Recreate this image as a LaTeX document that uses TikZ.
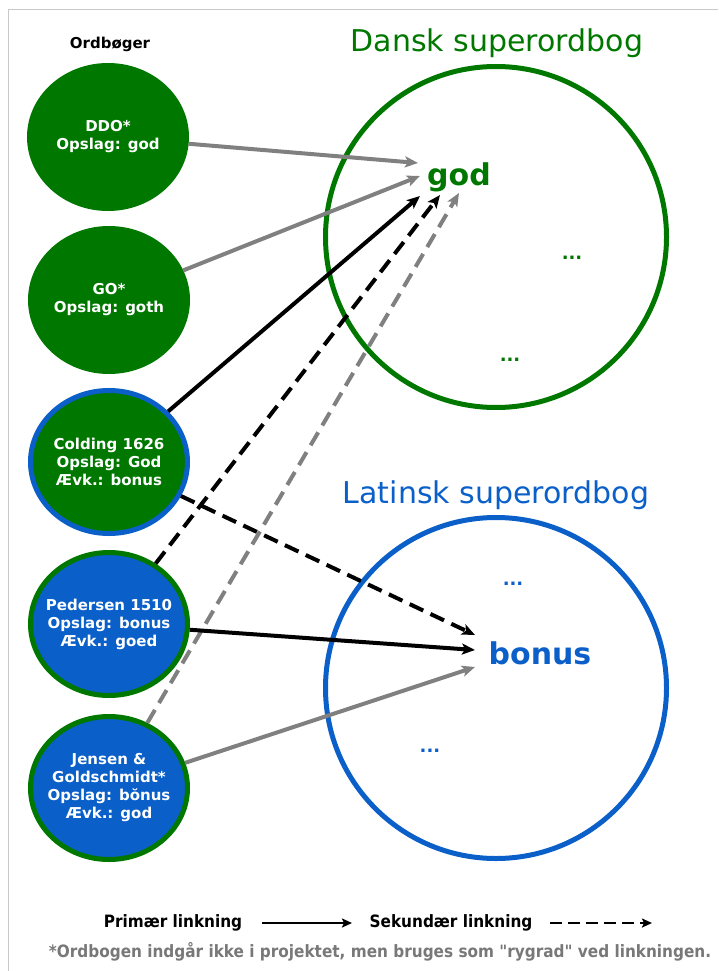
\documentclass[tikz,border=0pt]{standalone}
\usepackage{fontspec}
\setmainfont{DejaVu Sans}
\newfontfamily\condfont{DejaVu Sans Condensed}
\usetikzlibrary{shapes.geometric,arrows.meta}
\definecolor{dgreen}{RGB}{0,120,0}
\definecolor{dblue}{RGB}{10,95,200}
\definecolor{agray}{RGB}{128,128,128}
\definecolor{fgray}{RGB}{120,120,120}
\definecolor{framegray}{RGB}{200,200,200}
\begin{document}
\begin{tikzpicture}[x=1pt,y=-1pt,
  dict/.style={ellipse,line width=5pt,minimum width=157pt,minimum height=143pt,inner sep=0pt},
  gdict/.style={dict,fill=dgreen,draw=dgreen},
  gbdict/.style={dict,fill=dgreen,draw=dblue},
  bgdict/.style={dict,fill=dblue,draw=dgreen},
  ctext/.style={text=white,font=\bfseries\fontsize{15}{18}\selectfont,align=center,inner sep=0pt},
  superbox/.style={circle,line width=5pt,minimum size=341pt,inner sep=0pt},
  title/.style={font=\fontsize{30}{36}\selectfont,inner sep=0pt},
  headword/.style={font=\bfseries\fontsize{30}{36}\selectfont,inner sep=0pt},
  dots/.style={font=\bfseries\fontsize{18}{20}\selectfont,inner sep=0pt},
  lnk/.style={line width=4pt,-{Stealth[length=13pt,width=11pt,inset=3pt]}},
  prim/.style={lnk,draw=black},
  primgray/.style={lnk,draw=agray},
  sek/.style={lnk,draw=black,dash pattern=on 15pt off 8pt},
  sekgray/.style={lnk,draw=agray,dash pattern=on 15pt off 8pt},
  legtext/.style={font=\condfont\bfseries\fontsize{17}{20}\selectfont,inner sep=0pt},
  legarrow/.style={line width=2pt,-{Stealth[length=10pt,width=9pt,inset=2pt]}}
]
\useasboundingbox (0,0) rectangle (718,971);
\draw[framegray,line width=1pt] (8,971) -- (8,10) -- (718,10);

% left column
\node[font=\bfseries\fontsize{15}{18}\selectfont,inner sep=0pt] (ordb) at (110,44) {Ordbøger};
\node[gdict] (ddo) at (108,137) {};
\node[ctext] (ddot) at (ddo) {DDO*\\Opslag: god};
\node[gdict] (go) at (109,300) {};
\node[ctext] (got) at (go) {GO*\\Opslag: goth};
\node[gbdict] (col) at (109,462) {};
\node[ctext] (colt) at (col) {Colding 1626\\Opslag: God\\Ævk.: bonus};
\node[bgdict] (ped) at (109,624) {};
\node[ctext] (pedt) at (ped) {Pedersen 1510\\Opslag: bonus\\Ævk.: goed};
\node[bgdict] (jen) at (109,788) {};
\node[ctext] (jent) at (jen) {Jensen \&\\Goldschmidt*\\Opslag: bŏnus\\Ævk.: god};

% superdictionaries
\node[title,text=dgreen] (dtitle) at (497,43) {Dansk superordbog};
\node[superbox,draw=dgreen] (dansk) at (496,237) {};
\node[headword,text=dgreen] (god) at (459,177) {god};
\node[dots,text=dgreen] (dd1) at (572,258) {...};
\node[dots,text=dgreen] (dd2) at (510,360) {...};

\node[title,text=dblue] (ltitle) at (496,495) {Latinsk superordbog};
\node[superbox,draw=dblue] (latin) at (496,688) {};
\node[headword,text=dblue] (bonus) at (540,653) {bonus};
\node[dots,text=dblue] (ld1) at (513,584) {...};
\node[dots,text=dblue] (ld2) at (430,751) {...};

% targets
\coordinate (g1) at (418,163);
\coordinate (g2) at (420,176);
\coordinate (g3) at (420,196);
\coordinate (g4) at (440,195);
\coordinate (g5) at (459,193);
\coordinate (b1) at (475,635);
\coordinate (b2) at (475,650);
\coordinate (b3) at (475,667);

\draw[primgray] (ddo) -- (g1);
\draw[primgray] (go) -- (g2);
\draw[prim] (col) -- (g3);
\draw[sek] (ped) -- (g4);
\draw[sekgray] (jen) -- (g5);
\draw[sek] (col) -- (b1);
\draw[prim] (ped) -- (b2);
\draw[primgray] (jen) -- (b3);

% legend
\node[legtext] (lprim) at (173,923) {Primær linkning};
\coordinate (pa) at (262,923);
\coordinate (pb) at (352,923);
\draw[legarrow] (pa) -- (pb);
\node[legtext] (lsek) at (451,923) {Sekundær linkning};
\coordinate (sa) at (550,923);
\coordinate (sb) at (652,923);
\draw[legarrow,dash pattern=on 12pt off 6pt] (sa) -- (sb);
\node[legtext,text=fgray] (foot) at (380,952) {*Ordbogen indgår ikke i projektet, men bruges som "rygrad" ved linkningen.};
\end{tikzpicture}
\end{document}
